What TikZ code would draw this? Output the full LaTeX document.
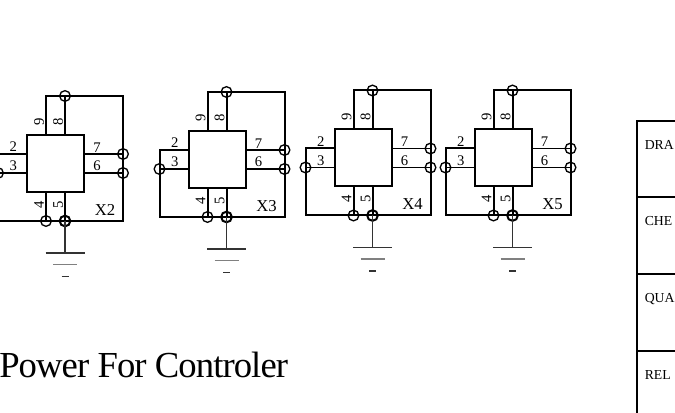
\documentclass[tikz,border=0pt]{standalone}
\usepackage{fontspec}
\setmainfont{Liberation Serif}
\newfontfamily\titlefont[LetterSpace=-2.5]{Liberation Serif}
\usetikzlibrary{positioning}

\begin{document}
\begin{tikzpicture} [
      x = 0.75pt, y = -0.75pt,
      wire/.style = { line width = 1.5pt, black },
      lead/.style = { line width = 1.2pt, black },
      gnd/.style = { line width = 0.85pt, black!80 },
      gndmid/.style = { line width = 1.3pt, black!50 },
      chip/.style = { draw, line width = 1.5pt, minimum size = 42.75pt, inner sep = 0 },
      via/.style = { draw, circle, line width = 1pt, minimum size = 8pt, inner sep = 0 },
      pinh/.style = { font = \fontsize{11}{11}\selectfont, inner sep = 0.8pt, anchor = south },
      pinv/.style = { font = \fontsize{11}{11}\selectfont, inner sep = 0.8pt, anchor = south, rotate = 90 },
      tag/.style = { font = \fontsize{12.5}{13}\selectfont, inner sep = 0 },
      cell/.style = { font = \fontsize{10.3}{11}\selectfont, inner sep = 0, anchor = base west }
      ]

      \clip (0,0) rectangle (675,413);

      \foreach \name/\x/\y in {X2/55.5/163.5, X3/217/159.5, X4/363/158, X5/503/158} {
        \node [chip] (\name) at (\x,\y) {};
        \node [via] (\name v8) at (\x+9.5,\y-67.5) {};
        \node [via] (\name v7) at (\x+67.5,\y-9.5) {};
        \node [via] (\name v6) at (\x+67.5,\y+9.5) {};
        \node [via] (\name v3) at (\x-57.5,\y+9.5) {};
        \node [via] (\name v4) at (\x-9.5,\y+57.5) {};
        \node [via, line width = 1.5pt] (\name v5) at (\x+9.5,\y+57.5) {};
        \coordinate (\name tl) at (\x-9.5,\y-67.5);
        \coordinate (\name tr) at (\x+67.5,\y-67.5);
        \coordinate (\name br) at (\x+67.5,\y+57.5);
        \coordinate (\name bl) at (\x-57.5,\y+57.5);
        \coordinate (\name lu) at (\x-57.5,\y-9.5);
        \coordinate (\name g1) at (\x+9.5,\y+89.5);
        \coordinate (\name g2) at (\x+9.5,\y+101);
        \coordinate (\name g3) at (\x+9.5,\y+113);

        \draw [wire] (\name.north -| \name tl) -- node [pinv, pos = 0.32] {9} (\name tl)
          -- (\name tr) -- (\name br) -- (\name bl) -- (\name lu)
          -- node [pinh, pos = 0.55] {2} (\name.west |- \name lu);
        \draw [wire] (\name.north -| \name v8) -- node [pinv, pos = 0.32] {8} (\name v8.center);
        \draw [lead] (\name.east |- \name v7) -- node [pinh, pos = 0.32] {7} (\name v7.center);
        \draw [lead] (\name.east |- \name v6) -- node [pinh, pos = 0.32] {6} (\name v6.center);
        \draw [lead] (\name v3.center) -- node [pinh, pos = 0.55] {3} (\name.west |- \name v3);
        \draw [wire] (\name.south -| \name v4) -- node [pinv, pos = 0.42] {4} (\name v4.center);
        \draw [wire] (\name.south -| \name v5) -- node [pinv, pos = 0.42] {5} (\name v5.center);
        \draw [gnd] (\name v5.center) -- (\name g1);
        \draw [gnd] (\name g1) ++(-19.5,0) -- ++(39,0);
        \draw [gndmid] (\name g2) ++(-12,0) -- ++(24,0);
        \draw [gnd] (\name g3) ++(-3.5,0) -- ++(7,0);
        \node [tag] (\name tag) at (\x+49.5,\y+46.5) {\name};
      }

      \node [font = \titlefont\fontsize{27.5}{30}\selectfont, inner sep = 0, anchor = base west] (title) at (-1,378) {Power For Controler};

      % title block, runs off the page
      \coordinate (tabletop) at (637,121);
      \coordinate (tableend) at (637,420);
      \draw [wire] (tableend) -- (tabletop) -- (680,121);
      \foreach \row/\txt/\ytop in {a/DRA/121, b/CHE/197, c/QUA/274, d/REL/351} {
        \coordinate (row\row) at (637,\ytop);
        \draw [wire] (row\row) -- ++(43,0);
        \node [cell] (cell\row) at (644.5,\ytop+29) {\txt};
      }
\end{tikzpicture}
\end{document}
